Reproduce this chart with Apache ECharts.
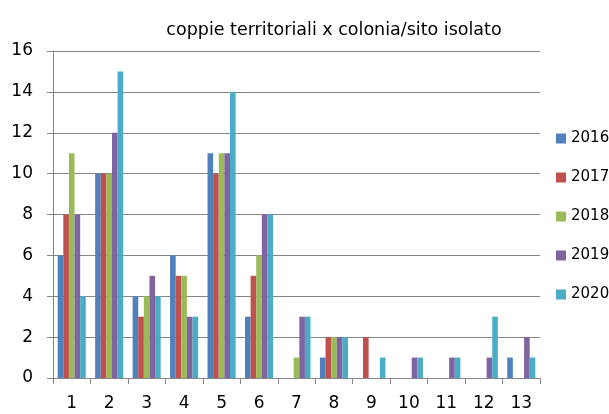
<!DOCTYPE html>
<html><head><meta charset="utf-8">
<script src="https://cdn.jsdelivr.net/npm/echarts@6/dist/echarts.min.js"></script>
<style>html,body{margin:0;padding:0;background:#fff}#c{width:609px;height:414px}</style>
</head><body><div id="c"></div>
<script>
const categories = ['1','2','3','4','5','6','7','8','9','10','11','12','13'];
const years = ['2016','2017','2018','2019','2020'];
const s2016 = [6,10,4,6,11,3,0,1,0,0,0,0,1];
const s2017 = [8,10,3,5,10,5,0,2,2,0,0,0,0];
const s2018 = [11,10,4,5,11,6,1,2,0,0,0,0,0];
const s2019 = [8,12,5,3,11,8,3,2,0,1,1,1,2];
const s2020 = [4,15,4,3,14,8,3,2,1,1,1,3,1];
const yTicks = [0,2,4,6,8,10,12,14,16];
const colors = ['#4F81BD','#C0504D','#9BBB59','#8064A2','#4BACC6'];
const values = [s2016,s2017,s2018,s2019,s2020];
const font = '"DejaVu Sans", sans-serif';
const chart = echarts.init(document.getElementById('c'));
chart.setOption({
  animation:false,
  title:{text:'coppie territoriali x colonia/sito isolato',left:329,top:16,textAlign:'center',
    textStyle:{fontFamily:font,fontSize:17.5,fontWeight:'normal',color:'#000'}},
  legend:{orient:'vertical',left:556,top:131,padding:0,itemWidth:10,itemHeight:10,itemGap:24,
    icon:'rect',textStyle:{fontFamily:font,fontSize:15,color:'#000'},data:years},
  grid:{left:53,right:69,top:51,bottom:36,containLabel:false},
  xAxis:{type:'category',data:categories,
    axisLine:{lineStyle:{color:'#868686',width:1}},
    axisTick:{show:true,length:6,lineStyle:{color:'#868686'}},
    axisLabel:{fontFamily:font,fontSize:17,color:'#000',margin:17}},
  yAxis:{type:'value',min:yTicks[0],max:yTicks[yTicks.length-1],interval:2,
    axisLine:{show:true,lineStyle:{color:'#868686',width:1}},
    axisTick:{show:true,length:6,lineStyle:{color:'#868686'}},
    splitLine:{lineStyle:{color:'#868686',width:1}},
    axisLabel:{fontFamily:font,fontSize:17,color:'#000',margin:20}},
  series: years.map((y,i)=>({name:y,type:'bar',data:values[i],barGap:'0%',barCategoryGap:'25%',
    itemStyle:{color:colors[i]}}))
});
</script></body></html>
